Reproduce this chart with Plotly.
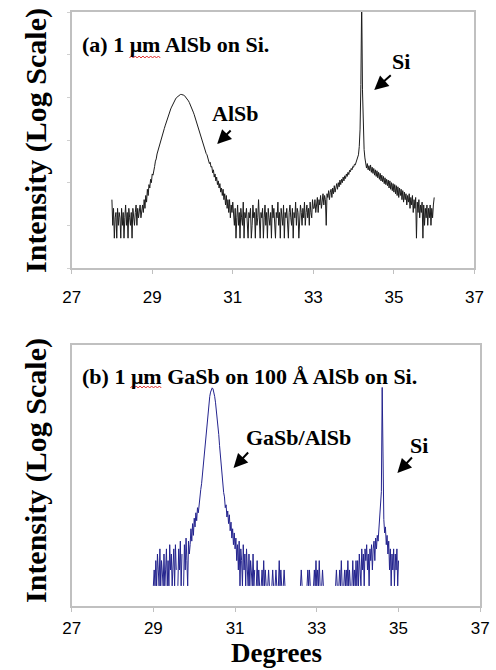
import numpy as np
import plotly.graph_objects as go

# ---------------- data ----------------
STEP = 0.02  # 2-theta sampling of both scans (deg)

# (a) 1 um AlSb on Si -- intensity (counts), segments given by their first angle
a_bg_left_start = 28.00
a_bg_left = [40, 10, 25, 5, 15, 20, 5, 25, 10, 20, 15, 5, 25, 10, 20, 5, 15, 30, 10, 20,
             5, 25, 15, 10, 20, 5, 25, 15, 10, 20, 30, 10, 25, 15, 20, 30, 15, 25]
a_alsb_start = 28.76
a_alsb = [30, 20, 40, 25, 50, 35, 70, 50, 90, 75, 120, 100, 160, 150, 220, 240, 320, 360,
          470, 540, 660, 780, 890, 1040, 1200, 1380, 1590, 1850, 2140, 2470, 2820, 3250,
          3700, 4250, 4800, 5350, 5900, 6550, 7200, 7850, 8500, 9150, 9800, 10250, 10700,
          11100, 11500, 11650, 11700, 11650, 11500, 11250, 11000, 10500, 10000, 9450, 8900,
          8250, 7600, 6950, 6300, 5600, 5000, 4500, 4000, 3450, 3000, 2650, 2300, 2000,
          1740, 1520, 1320, 1130, 990, 880, 770, 640, 570, 480, 450, 370, 350, 280, 300,
          230, 240, 170, 200, 135, 160, 110, 135, 90, 110, 75, 95, 60, 75, 50, 70, 40, 55,
          30, 50, 25, 40, 20, 40, 15, 30, 20, 35]
a_bg_mid_start = 31.02
a_bg_mid = [20, 10, 25, 5, 15, 30, 10, 20, 5, 25, 15, 10, 35, 5, 20, 15, 25, 10, 5, 20,
            15, 25, 5, 10, 30, 15, 20, 5, 25, 10, 15, 40, 10, 5, 20, 15, 25, 5, 15, 30,
            10, 20, 5, 25, 15, 10, 20, 5, 30, 15, 25, 10, 5, 20, 15, 35, 10, 20, 5, 25,
            15, 10, 30, 5, 20, 15, 25, 10, 5, 20, 30, 15, 10, 25, 5, 20, 15, 35, 10, 25,
            20, 5, 15, 30, 20, 10, 25, 15, 35, 10, 20, 30, 15, 25, 10, 35, 20, 15, 40, 25]
a_si_rise_start = 33.02
a_si_rise = [25, 40, 20, 35, 45, 20, 40, 30, 50, 25, 45, 55, 30, 50, 40, 10, 55, 45, 65, 40,
             60, 70, 45, 75, 55, 85, 60, 80, 95, 70, 100, 80, 115, 90, 120, 100, 135, 110,
             145, 125, 160, 140, 175, 155, 195, 180, 215, 200, 240, 230, 270, 260, 300, 320,
             380]
a_si_peak_start = 34.12
a_si_peak = [450, 700, 1800, 20000, 2000000, 15000, 1500, 600, 380]
a_si_tail_start = 34.30
a_si_tail = [300, 220, 280, 200, 250, 190, 260, 175, 230, 165, 215, 150, 200, 140, 190, 130,
             175, 120, 165, 110, 150, 105, 140, 95, 130, 90, 120, 85, 115, 75, 110, 70, 100,
             65, 95, 60, 90, 55, 85, 50, 80, 45, 75, 50, 70, 40, 65, 35, 60, 40, 55, 30, 50,
             35, 55, 25, 45, 30, 50, 20, 40, 25, 45, 5, 35, 20, 40, 15, 30, 20, 35, 5, 30,
             10, 25, 15, 30, 10, 25, 15, 30, 10, 25, 15, 30, 45]

# (b) 1 um GaSb on 100 A AlSb on Si -- counts, 0 = no counts recorded
b_bg_left_start = 29.00
b_bg_left = [1, 2, 1, 3, 1, 4, 2, 1, 5, 1, 3, 2, 1, 4, 1, 2, 5, 1, 3, 1,
             6, 2, 4, 1, 3, 5, 1, 6, 2, 0, 1, 5, 2, 7, 1, 4, 0, 1, 6, 2, 8, 3, 1, 7, 4]
b_gasb_start = 29.90
b_gasb = [6, 12, 7, 15, 9, 19, 13, 24, 17, 30, 24, 38, 40, 66, 85, 126, 178, 282, 447, 725,
          1100, 1590, 2140, 2950, 3800, 4570, 5250, 5500, 5250, 4570, 3800, 2950, 2140, 1590,
          1100, 725, 447, 282, 178, 126, 92, 58, 48, 30, 34, 20, 26, 15, 22, 11, 16, 8, 12,
          6, 10, 5]
b_bg_right_start = 31.02
b_bg_right = [8, 3, 6, 2, 7, 1, 5, 3, 1, 6, 2, 4, 1, 5, 2, 1, 4, 1, 3, 2,
              1, 4, 1, 2, 0, 1, 3, 1, 2, 1, 0, 1, 2, 1, 3]
b_sparse_start = 31.72
b_sparse = [1, 2, 1, 0, 1, 2, 1, 0, 0, 1, 2, 1, 0, 1, 2, 1, 0, 1, 3, 1,
            2, 1, 0, 1, 2, 1, 0, 0, 1, 0,
            0, 0, 0, 1, 0, 0, 0, 0, 0, 1, 0, 0, 0, 0,
            1, 2, 1, 0, 0, 0, 0, 0, 1, 2, 1, 2, 1, 0, 0, 0, 1, 2, 1, 3,
            1, 2, 1, 3, 1, 0, 1, 2, 1, 0,
            0, 0, 0, 0, 0, 0, 0, 0, 0, 0, 0, 0, 0,
            1, 2, 1, 0, 1, 2, 1, 3, 1, 0, 1, 2, 1, 2, 1, 3, 1, 2, 1, 0, 1, 3, 1, 2, 1, 3, 1]
b_si_start = 34.00
b_si = [3, 1, 4, 2, 1, 5, 2, 4, 1, 5, 3, 6, 2, 4, 1, 5, 3, 6, 2, 5, 7, 3, 8, 5, 9, 7, 12,
        14, 22, 60, 5600, 45, 18, 10, 13, 6, 9, 4, 7, 2, 5, 1, 4, 2, 5, 1, 4, 2, 5, 1, 3]

x_ticks = [27, 29, 31, 33, 35, 37]
title_a = "(a) 1 μm AlSb on Si."
title_b = "(b) 1 μm GaSb on 100 Å AlSb on Si."
y_title = "Intensity (Log Scale)"
x_title = "Degrees"

# ---------------- build series ----------------
def series(segments):
    xs, ys = [], []
    for start, vals in segments:
        xs.extend(np.round(start + STEP * np.arange(len(vals)), 2).tolist())
        ys.extend([float(v) if v > 0 else None for v in vals])
    return xs, ys

x_a, y_a = series([(a_bg_left_start, a_bg_left), (a_alsb_start, a_alsb),
                   (a_bg_mid_start, a_bg_mid), (a_si_rise_start, a_si_rise),
                   (a_si_peak_start, a_si_peak), (a_si_tail_start, a_si_tail)])
x_b, y_b = series([(b_bg_left_start, b_bg_left), (b_gasb_start, b_gasb),
                   (b_bg_right_start, b_bg_right), (b_sparse_start, b_sparse),
                   (b_si_start, b_si)])

# ---------------- figure ----------------
W, H = 496, 670

def px(x):
    return x / W

def py(y):
    return 1 - y / H

SERIF = "Liberation Serif"
SANS = "Liberation Sans"
FRAME = "#c0c0c0"

fig = go.Figure()
fig.add_trace(go.Scatter(x=x_a, y=y_a, mode="lines", xaxis="x", yaxis="y",
                         line=dict(color="#1c1c1c", width=1), showlegend=False,
                         connectgaps=False))
fig.add_trace(go.Scatter(x=x_b, y=y_b, mode="lines", xaxis="x2", yaxis="y2",
                         line=dict(color="#24248e", width=1), showlegend=False,
                         connectgaps=False))

def xaxis(domain, anchor, standoff):
    return dict(domain=domain, anchor=anchor, range=[27, 37], tickvals=x_ticks,
                ticktext=[str(t) for t in x_ticks], showgrid=False, zeroline=False,
                showline=True, mirror=True, linecolor=FRAME, linewidth=1.5,
                ticks="outside", ticklen=4, tickcolor=FRAME,
                tickfont=dict(family=SANS, size=17, color="#000"),
                ticklabelstandoff=standoff)

fig.update_layout(
    width=W, height=H, margin=dict(l=0, r=0, t=0, b=0),
    paper_bgcolor="white", plot_bgcolor="white",
    xaxis=xaxis([px(65), px(483)], "y", 9),
    yaxis=dict(domain=[py(268), py(12)], anchor="x", type="log", range=[0, 6],
               showgrid=False, zeroline=False, showline=True, mirror=True,
               linecolor=FRAME, linewidth=1.5, showticklabels=False,
               ticks="outside", ticklen=3, tickcolor="#d0d0d0", dtick=1),
    xaxis2=xaxis([px(65), px(489)], "y2", 2),
    yaxis2=dict(domain=[py(606), py(345)], anchor="x2", type="log", range=[-0.38, 4.55],
                showgrid=False, zeroline=False, showline=True, mirror=True,
                linecolor=FRAME, linewidth=1.5, showticklabels=False, ticks=""),
)

ann = []
def text(s, x, y, size, xanchor="center", angle=0, family=SERIF):
    ann.append(dict(text=s, x=px(x), y=py(y), xref="paper", yref="paper",
                    xanchor=xanchor, yanchor="middle", showarrow=False,
                    textangle=angle, font=dict(family=family, size=size, color="#000")))

def arrow(x0, y0, x1, y1):
    ann.append(dict(text="", x=px(x1), y=py(y1), xref="paper", yref="paper",
                    ax=x0 - x1, ay=y0 - y1, showarrow=True, arrowhead=2,
                    arrowsize=1.4, arrowwidth=2, arrowcolor="#000"))

text("<b>" + y_title + "</b>", 28, 140, 30, angle=-90)
text("<b>" + y_title + "</b>", 28, 470, 30, angle=-90)
text("<b>" + x_title + "</b>", 278, 653, 27)
text("<b>" + title_a + "</b>", 74, 45, 22, xanchor="left")
text("<b>" + title_b + "</b>", 74, 376, 22, xanchor="left")
text("<b>AlSb</b>", 235, 114, 22)
text("<b>Si</b>", 407, 62, 22)
text("<b>GaSb/AlSb</b>", 300, 437, 22)
text("<b>Si</b>", 425, 445, 22)
arrow(231, 129, 216, 144)
arrow(397, 74, 379, 90)
arrow(249, 451, 233, 468)
arrow(419, 456, 403, 473)
fig.update_layout(annotations=ann)

# red spell-check squiggle under "μm"
shapes = []
for (x0, x1, yb) in [(125, 157, 57), (126, 158, 387)]:
    pts = []
    for k, xv in enumerate(np.arange(x0, x1 + 1, 2)):
        yv = yb - 1 if k % 2 else yb + 1
        pts.append(f"{'M' if k == 0 else 'L'}{px(xv):.5f},{py(yv):.5f}")
    shapes.append(dict(type="path", path=" ".join(pts), xref="paper", yref="paper",
                       line=dict(color="#e03030", width=1)))
fig.update_layout(shapes=shapes)

fig.write_html("out.html")
